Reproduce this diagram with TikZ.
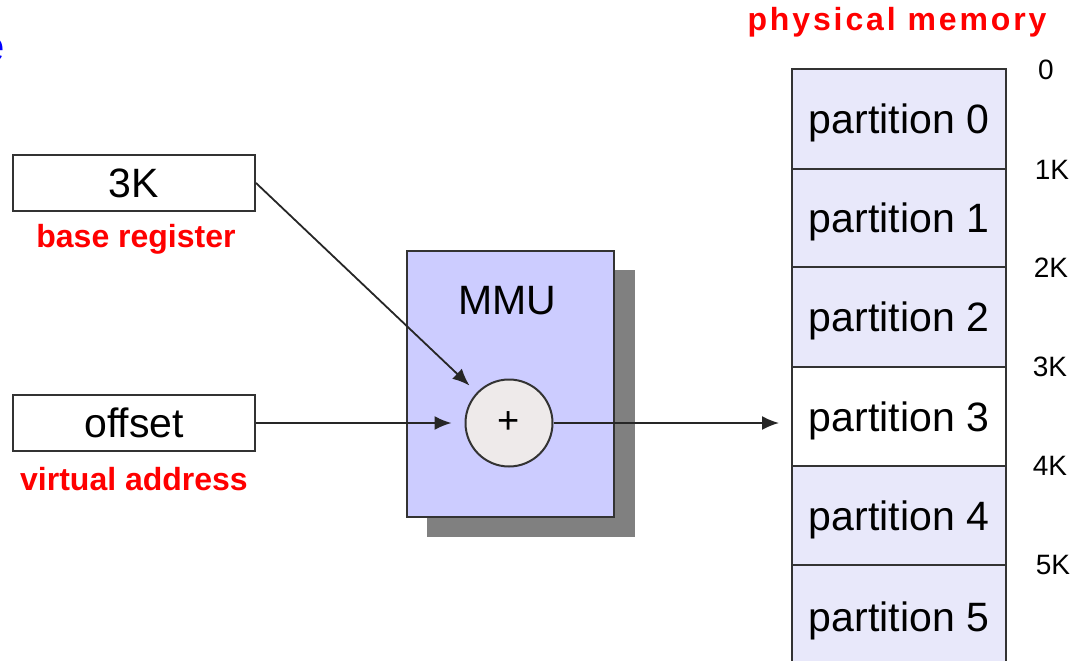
\documentclass[tikz,border=0pt]{standalone}
\usepackage{fontspec}
\setmainfont{Liberation Sans}
\newfontfamily\pmfont[LetterSpace=9]{Liberation Sans}
\usetikzlibrary{arrows.meta,calc}
\definecolor{partfill}{HTML}{E8E8FA}
\definecolor{mmufill}{HTML}{CCCCFF}
\definecolor{shadowgray}{HTML}{808080}
\definecolor{plusfill}{HTML}{EEEAEA}
\definecolor{edge}{HTML}{333333}
\begin{document}
\begin{tikzpicture}[x=1pt,y=-1pt,
  regbox/.style={draw=edge, line width=2, fill=white, minimum width=242, minimum height=56, inner sep=0, font=\fontsize{41}{48}\selectfont},
  redlbl/.style={text=red, inner sep=0, font=\fontsize{32}{38}\selectfont\bfseries},
  arr/.style={draw=black!85, line width=1.8, -{Latex[length=17,width=14]}},
  part/.style={draw=edge, line width=2, fill=partfill, minimum width=214, inner sep=0, text depth=0pt, font=\fontsize{41}{48}\selectfont},
  addr/.style={inner sep=0, font=\fontsize{28}{32}\selectfont}
]
\path[use as bounding box, clip] (0,0) rectangle (1076,661);

% cut-off title fragment
\node[text=blue, inner sep=0, font=\fontsize{44}{52}\selectfont] (frag) at (-7,50) {e};

% registers
\node[regbox] (base) at (134,183) {3K};
\node[redlbl] (baselbl) at (136,239) {base register};
\node[regbox] (off) at (134,423) {offset};
\node[redlbl] (offlbl) at (134,479) {virtual address};

% MMU
\fill[shadowgray] (427,270) rectangle (635,537);
\node[draw=edge, line width=2, fill=mmufill, minimum width=207, minimum height=266, inner sep=0] (mmu) at (510.5,384) {};
\node[inner sep=0, font=\fontsize{41}{48}\selectfont] (mmulbl) at (507,301) {MMU};
\node[circle, draw=edge, line width=2, fill=plusfill, minimum size=87, inner sep=0, font=\fontsize{38}{44}\selectfont] (plus) at (509,423) {+};

% physical memory
\node[text=red, inner sep=0, font=\fontsize{32}{38}\pmfont\bfseries] (pmlbl) at (897,22) {physical memory};
\node[part, minimum height=100] (p0) at (899,119) {partition 0};
\node[part, minimum height=98] (p1) at (899,218) {partition 1};
\node[part, minimum height=100] (p2) at (899,317) {partition 2};
\node[part, minimum height=99, fill=white] (p3) at (899,416.5) {partition 3};
\node[part, minimum height=99] (p4) at (899,515.5) {partition 4};
\node[part, minimum height=110] (p5) at (899,620) {};
\node[inner sep=0, text depth=0pt, font=\fontsize{41}{48}\selectfont] (p5lbl) at (899,617) {partition 5};

\node[addr] (a0) at (1046,70) {0};
\node[addr] (a1) at (1052,170) {1K};
\node[addr] (a2) at (1051,268) {2K};
\node[addr] (a3) at (1050,367) {3K};
\node[addr] (a4) at (1050,466) {4K};
\node[addr] (a5) at (1053,565) {5K};

% connectors
\draw[arr, shorten >=10] (base.east) -- (plus);
\draw[arr, shorten >=13] (off.east) -- (plus);
\draw[arr, shorten >=12] (plus.east) -- (plus.east -| p3.west);
\end{tikzpicture}
\end{document}
